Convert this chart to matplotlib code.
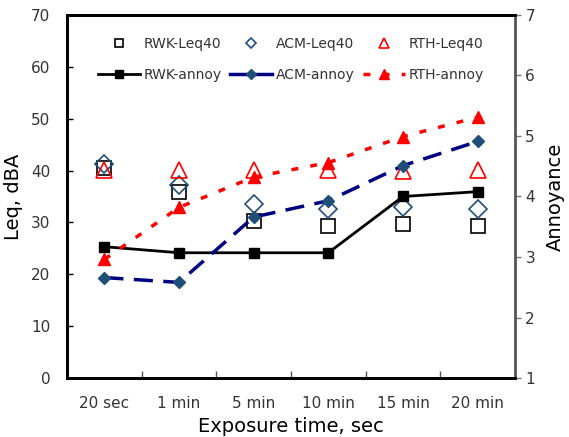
import matplotlib
matplotlib.use("Agg")
import matplotlib.pyplot as plt
from matplotlib.lines import Line2D

categories = ["20 sec", "1 min", "5 min", "10 min", "15 min", "20 min"]
rwk_leq = [40.5, 35.9, 30.3, 29.3, 29.7, 29.3]
acm_leq = [41.2, 37.2, 33.5, 32.5, 33.0, 32.6]
rth_leq = [40.1, 40.2, 40.1, 40.1, 40.0, 40.1]
rwk_annoy = [3.17, 3.07, 3.07, 3.07, 4.00, 4.08]
acm_annoy = [2.66, 2.58, 3.66, 3.93, 4.51, 4.91]
rth_annoy = [2.96, 3.82, 4.32, 4.56, 4.99, 5.31]

plt.rcParams['font.family'] = ['DejaVu Sans']
fig = plt.figure(figsize=(5.69, 4.37), dpi=100)
ax = fig.add_axes([0.1178, 0.135, 0.7872, 0.8307])
ax2 = ax.twinx()

x = list(range(len(categories)))
navy = "#000080"
dblue = "#1F4E79"
red = "#FF0000"

ax.plot(x, rwk_leq, ls="none", marker="s", ms=10, mfc="white", mec="black", mew=1.2, zorder=3)
ax.plot(x, acm_leq, ls="none", marker="D", ms=9, mfc="none", mec=dblue, mew=1.2, zorder=3)
ax.plot(x, rth_leq, ls="none", marker="^", ms=12, mfc="none", mec=red, mew=1.2, zorder=3)

ax2.plot(x, rwk_annoy, color="black", lw=2, marker="s", ms=7, mfc="black", mec="black")
ax2.plot(x, acm_annoy, color=navy, lw=2.5, ls=(0, (5.5, 3)), marker="D", ms=6, mfc=dblue, mec=dblue)
ax2.plot(x, rth_annoy, color=red, lw=2.5, ls=(0, (2, 3.5)), marker="^", ms=8, mfc=red, mec=red)

ax.set_xlim(-0.5, len(categories) - 0.5)
ax.set_ylim(0, 70)
ax2.set_ylim(1, 7)
ax.set_yticks(range(0, 71, 10))
ax2.set_yticks(range(1, 8))
ax.set_xticks([i + 0.5 for i in range(len(categories) - 1)])
ax.set_xticklabels([])
ax.set_xticks(x, minor=True)
ax.set_xticklabels(categories, minor=True)
ax.tick_params(axis="x", which="major", direction="in", length=5, width=1, color="#555555")
ax.tick_params(axis="x", which="minor", length=0, pad=13, labelsize=11, labelcolor="#333333")
ax.tick_params(axis="y", direction="in", length=4, width=1, labelsize=11, labelcolor="#333333", pad=12)
ax2.tick_params(axis="y", direction="out", length=4, width=1, color="#777777", labelsize=11, labelcolor="#333333")

for s in ["left", "top", "bottom"]:
    ax.spines[s].set_linewidth(2)
    ax2.spines[s].set_linewidth(2)
ax2.spines["right"].set_linewidth(2)
ax2.spines["right"].set_color("#555555")
ax.spines["right"].set_visible(False)

ax.set_ylabel("Leq, dBA", fontsize=14, labelpad=6)
ax2.set_ylabel("Annoyance", fontsize=14, labelpad=8)
ax.set_xlabel("Exposure time, sec", fontsize=14, labelpad=4)

h = [
    Line2D([], [], ls="none", marker="s", ms=6, mfc="white", mec="black", mew=1.2),
    Line2D([], [], color="black", lw=2, marker="s", ms=6, mfc="black"),
    Line2D([], [], ls="none", marker="D", ms=5, mfc="none", mec=dblue, mew=1.2),
    Line2D([], [], color=navy, lw=2.5, marker="D", ms=5, mfc=dblue, mec=dblue),
    Line2D([], [], ls="none", marker="^", ms=7, mfc="none", mec=red, mew=1.2),
    Line2D([], [], color=red, lw=2.5, ls=(0, (2, 3.5)), marker="^", ms=7, mfc=red, mec=red),
]
labels = ["RWK-Leq40", "RWK-annoy", "ACM-Leq40", "ACM-annoy", "RTH-Leq40", "RTH-annoy"]
ax.legend(h, labels, ncol=3, frameon=False, loc="upper center", bbox_to_anchor=(0.5, 0.975),
          fontsize=10, handlelength=3, columnspacing=0.6, labelspacing=1.25, handletextpad=0.3,
          labelcolor="#333333")

fig.savefig("out.png", dpi=100)
